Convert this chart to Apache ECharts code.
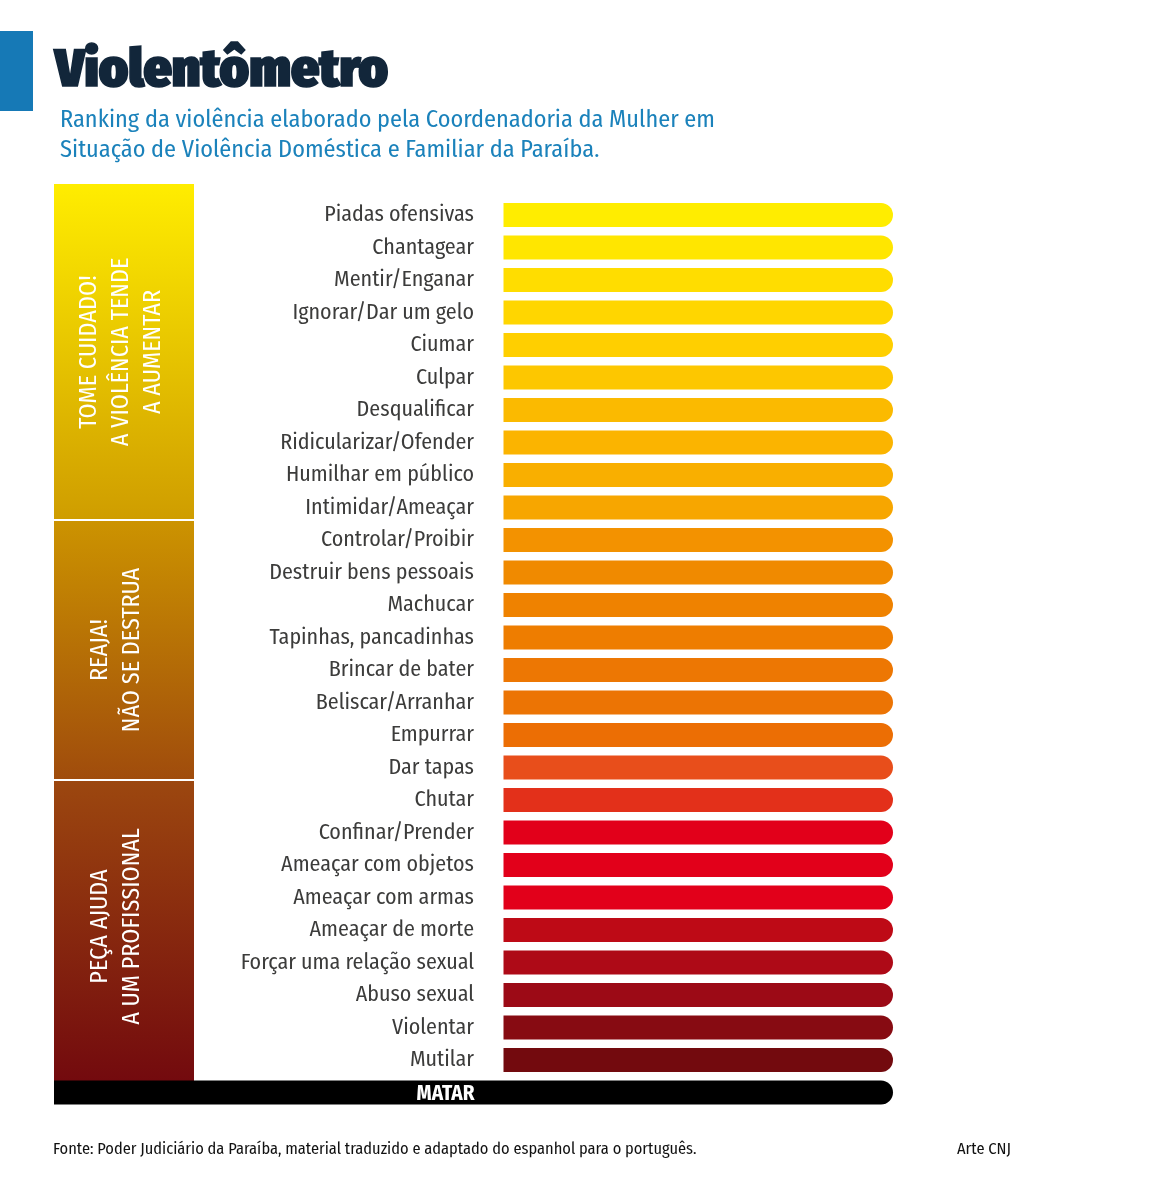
<!DOCTYPE html>
<html>
<head>
<meta charset="utf-8">
<script src="https://cdn.jsdelivr.net/npm/echarts@6/dist/echarts.min.js"></script>
<style>
  html, body { margin: 0; padding: 0; background: #fff; }
  #chart { width: 1156px; height: 1200px; }
</style>
</head>
<body>
<div id="chart"></div>
<script>
const FONT = '"Fira Sans Condensed", "Roboto Condensed", sans-serif';

const categories = [
  'Piadas ofensivas', 'Chantagear', 'Mentir/Enganar', 'Ignorar/Dar um gelo', 'Ciumar', 'Culpar',
  'Desqualificar', 'Ridicularizar/Ofender', 'Humilhar em público', 'Intimidar/Ameaçar',
  'Controlar/Proibir', 'Destruir bens pessoais', 'Machucar', 'Tapinhas, pancadinhas',
  'Brincar de bater', 'Beliscar/Arranhar', 'Empurrar', 'Dar tapas', 'Chutar', 'Confinar/Prender',
  'Ameaçar com objetos', 'Ameaçar com armas', 'Ameaçar de morte', 'Forçar uma relação sexual',
  'Abuso sexual', 'Violentar', 'Mutilar', 'MATAR'
];
// todas as barras têm o mesmo comprimento no original
const barValues = [1, 1, 1, 1, 1, 1, 1, 1, 1, 1, 1, 1, 1, 1, 1, 1, 1, 1, 1, 1, 1, 1, 1, 1, 1, 1, 1];
const barColors = [
  '#ffed00', '#ffe600', '#ffdd00', '#ffd600', '#ffcf00', '#fdc700', '#fbba00', '#fbb400', '#f9af00',
  '#f7a600', '#f39200', '#f08a00', '#ef8200', '#ee7d00', '#ed7703', '#ec7404', '#ec6e04', '#e84e1b',
  '#e3301a', '#e2001a', '#e2001a', '#e2001a', '#be0a16', '#ae0a17', '#9c0a16', '#870b12', '#730a0e'
];
const matarValue = [1];

const panels = [
  { top: 184, height: 335, colors: ['#ffed00', '#cf9d00'], lines: 'TOME CUIDADO!\nA VIOLÊNCIA TENDE\nA AUMENTAR', cx: 121.5, cy: 352 },
  { top: 521, height: 258, colors: ['#cc9300', '#a04c0c'], lines: 'REAJA!\nNÃO SE DESTRUA', cx: 116, cy: 650 },
  { top: 781, height: 300, colors: ['#9c470f', '#730a0e'], lines: 'PEÇA AJUDA\nA UM PROFISSIONAL', cx: 116, cy: 926.5 }
];

const panelRects = panels.map(p => ({
  type: 'rect',
  shape: { x: 54, y: p.top, width: 140, height: p.height },
  style: { fill: new echarts.graphic.LinearGradient(0, 0, 0, 1, [
    { offset: 0, color: p.colors[0] }, { offset: 1, color: p.colors[1] }
  ]) }
}));
const panelTexts = panels.map(p => ({
  type: 'text',
  x: p.cx,
  y: p.cy,
  rotation: Math.PI / 2,
  z: 10,
  style: {
    text: p.lines, fill: '#fff', font: '24.2px ' + FONT,
    align: 'center', verticalAlign: 'middle', lineHeight: 32
  }
}));

const chart = echarts.init(document.getElementById('chart'));
chart.setOption({
  animation: false,
  backgroundColor: '#fff',
  title: [
    { text: 'Ranking da violência elaborado pela Coordenadoria da Mulher em\nSituação de Violência Doméstica e Familiar da Paraíba.', left: 60, top: 105.5, padding: 0,
      textStyle: { fontFamily: FONT, fontWeight: 'normal', fontSize: 24.25, lineHeight: 30, color: '#1b82bb' } },
    { text: 'Fonte: Poder Judiciário da Paraíba, material traduzido e adaptado do espanhol para o português.', left: 53, top: 1141, padding: 0,
      textStyle: { fontFamily: FONT, fontWeight: 'normal', fontSize: 16.35, color: '#111' } },
    { text: 'Arte CNJ', left: 957, top: 1141, padding: 0, textStyle: { fontFamily: FONT, fontWeight: 'normal', fontSize: 16.35, color: '#111' } }
  ],
  grid: [
    { left: 503.5, width: 389.5, top: 198.75, height: 910 },
    { left: 54, width: 839, top: 198.75, height: 910 }
  ],
  xAxis: [
    { gridIndex: 0, type: 'value', min: 0, max: 1, show: false },
    { gridIndex: 1, type: 'value', min: 0, max: 1, show: false }
  ],
  yAxis: [
    { gridIndex: 0, type: 'category', inverse: true, data: categories.slice(0, 27).concat(''),
      axisLine: { show: false }, axisTick: { show: false }, splitLine: { show: false },
      axisLabel: { interval: 0, margin: 29.5, padding: [0, 0, 1, 0], fontFamily: FONT, fontSize: 22, color: '#3c3c3b' } },
    { gridIndex: 1, type: 'category', inverse: true, data: categories, show: false }
  ],
  series: [
    { type: 'bar', xAxisIndex: 0, yAxisIndex: 0, barWidth: 24, silent: true,
      data: barValues.map((v, i) => ({ value: v, itemStyle: { color: barColors[i], borderRadius: [0, 12, 12, 0] } })) },
    { type: 'bar', xAxisIndex: 1, yAxisIndex: 1, barWidth: 24, silent: true,
      data: categories.map((c, i) => (i === 27 ? matarValue[0] : null)),
      itemStyle: { color: '#000', borderRadius: [0, 12, 12, 0] },
      label: { show: true, position: 'inside', offset: [-28, 2], formatter: () => categories[27], fontFamily: FONT, fontWeight: 'bold', fontSize: 21, color: '#fff' } }
  ],
  graphic: [
    { type: 'rect', shape: { x: 0, y: 31, width: 33, height: 80 }, style: { fill: '#1679b6' } },
    // titulo mais largo que a fonte: estica na horizontal
    { type: 'text', x: 55, y: 71.5, scaleX: 1.06, style: {
      text: 'Violentômetro', font: '900 52px ' + FONT, fill: '#12263a',
      stroke: '#12263a', lineWidth: 1.5, verticalAlign: 'middle'
    } }
  ].concat(panelRects, panelTexts)
});
</script>
</body>
</html>
